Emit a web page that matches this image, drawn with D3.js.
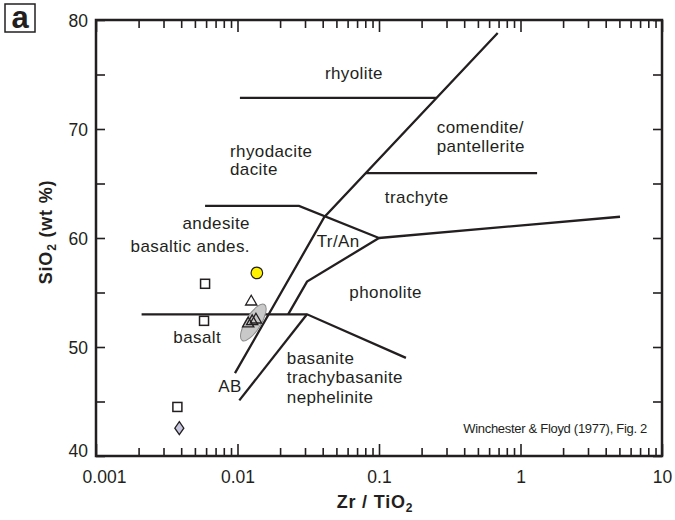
<!DOCTYPE html>
<html>
<head>
<meta charset="utf-8">
<script src="https://cdn.jsdelivr.net/npm/d3@7"></script>
<style>
  body { margin: 0; background: #fff; }
  svg text { font-family: "Liberation Sans", Arial, sans-serif; fill: #231f20; }
</style>
</head>
<body>
<svg id="chart" width="675" height="520"></svg>
<script>
// axes
var xMajor = [0.001, 0.01, 0.1, 1, 10];
var xLabels = ["0.001", "0.01", "0.1", "1", "10"];
var yMajor = [40, 50, 60, 70, 80];
var yMinor = [45, 55, 65, 75];

// field boundaries as [Zr/TiO2, SiO2]
var bMain      = [[0.69, 78.8], [0.041, 61.9], [0.0096, 47.6]];
var bRhyolite  = [[0.0104, 72.85], [0.255, 72.85]];
var bComendite = [[0.0807, 65.95], [1.31, 65.95]];
var bAndesite  = [[0.0059, 62.95], [0.0272, 62.95], [0.1, 60]];
var bTrachyte  = [[0.1, 60], [5.05, 61.95]];
var bTrAn      = [[0.1, 60], [0.031, 56], [0.0228, 53]];
var bBasalt    = [[0.0021, 53], [0.031, 53], [0.155, 49]];
var bAB        = [[0.031, 53], [0.0103, 45.1]];

// samples
var squares   = [[0.0059, 55.8], [0.0058, 52.4], [0.00376, 44.5]];
var circles   = [[0.0137, 56.8]];
var diamonds  = [[0.00388, 42.55]];
var trianglesOpen  = [[0.0125, 54.15]];
var trianglesField = [[0.0119, 52.15], [0.0127, 52.35], [0.0135, 52.5]];
var fieldEnds = [[0.0108, 50.6], [0.0155, 53.9]];   // grey ellipse, long axis

// field names
var namesLeft = [
  ["rhyodacite", 0.00885, 67.43], ["dacite", 0.00885, 65.78],
  ["comendite/", 0.256, 69.59], ["pantellerite", 0.256, 67.89],
  ["trachyte", 0.110, 63.21], ["Tr/An", 0.0363, 59.15],
  ["phonolite", 0.0617, 54.47], ["basalt", 0.00352, 50.34],
  ["AB", 0.00731, 45.9], ["basanite", 0.0223, 48.44],
  ["trachybasanite", 0.0223, 46.67], ["nephelinite", 0.0223, 44.89]
];
var namesRight = [["andesite", 0.01225, 60.83], ["basaltic andes.", 0.01225, 58.72]];
var namesMid = [["rhyolite", 0.0665, 74.6]];

var svg = d3.select("#chart");
var x = d3.scaleLog().domain([0.001, 10]).range([96, 662]);
var y = d3.scaleLinear().domain([40, 80]).range([456, 20]);
var ink = "#231f20";

var xAll = x.ticks();
var isMajor = d => xMajor.some(m => Math.abs(m - d) / m < 1e-6);

// bottom axis
var gb = svg.append("g").attr("transform", "translate(0,456)")
  .call(d3.axisBottom(x).tickValues(xAll).tickSize(-8).tickSizeOuter(0)
    .tickFormat(d => isMajor(d) ? xLabels[xMajor.findIndex(m => Math.abs(m - d) / m < 1e-6)] : ""));
// top axis
var gt = svg.append("g").attr("transform", "translate(0,20)")
  .call(d3.axisTop(x).tickValues(xAll).tickSize(-8).tickSizeOuter(0).tickFormat(""));
// left axis
var gl = svg.append("g").attr("transform", "translate(96,0)")
  .call(d3.axisLeft(y).tickValues(yMajor.concat(yMinor)).tickSize(-9).tickSizeOuter(0)
    .tickFormat(d => yMajor.includes(d) ? d : ""));
// right axis
var gr = svg.append("g").attr("transform", "translate(662,0)")
  .call(d3.axisRight(y).tickValues(yMajor.concat(yMinor)).tickSize(-9).tickSizeOuter(0).tickFormat(""));

[gb, gt, gl, gr].forEach(g => {
  g.select(".domain").remove();
  g.selectAll("line").attr("stroke", ink).attr("stroke-width", 1.6);
  g.selectAll("text").style("font-size", "17.5px").attr("fill", ink);
});
gb.selectAll(".tick").filter(isMajor).select("line").attr("y2", -12);
gt.selectAll(".tick").filter(isMajor).select("line").attr("y2", 12);
gb.selectAll("text").attr("dy", null).attr("y", 26.7)
  .attr("dx", d => d === 0.001 ? 8 : 0);
gl.selectAll("text").attr("x", -8).attr("dy", "0.35em")
  .attr("y", d => d === 40 ? -6 : 0);

// frame
svg.append("rect").attr("x", 96).attr("y", 20).attr("width", 566).attr("height", 436)
  .attr("fill", "none").attr("stroke", ink).attr("stroke-width", 2.5);

// boundaries
var line = d3.line().x(d => x(d[0])).y(d => y(d[1]));
svg.append("g").selectAll("path")
  .data([bMain, bRhyolite, bComendite, bAndesite, bTrachyte, bTrAn, bBasalt, bAB])
  .join("path").attr("d", line)
  .attr("fill", "none").attr("stroke", ink).attr("stroke-width", 2.3)
  .attr("stroke-linejoin", "miter");

// grey field
var p0 = [x(fieldEnds[0][0]), y(fieldEnds[0][1])];
var p1 = [x(fieldEnds[1][0]), y(fieldEnds[1][1])];
var ang = Math.atan2(p1[1] - p0[1], p1[0] - p0[0]) * 180 / Math.PI;
svg.append("ellipse")
  .attr("transform", "translate(" + (p0[0] + p1[0]) / 2 + "," + (p0[1] + p1[1]) / 2 + ") rotate(" + ang + ")")
  .attr("rx", Math.hypot(p1[0] - p0[0], p1[1] - p0[1]) / 2).attr("ry", 7.5)
  .attr("fill", "#c9c9c9").attr("stroke", "#8c8c8c").attr("stroke-width", 1);

// samples
svg.append("g").selectAll("rect").data(squares).join("rect")
  .attr("x", d => x(d[0]) - 4.5).attr("y", d => y(d[1]) - 4.5)
  .attr("width", 9).attr("height", 9)
  .attr("fill", "#fff").attr("stroke", ink).attr("stroke-width", 1.5);

svg.append("g").selectAll("circle").data(circles).join("circle")
  .attr("cx", d => x(d[0])).attr("cy", d => y(d[1])).attr("r", 5.8)
  .attr("fill", "#fff200").attr("stroke", ink).attr("stroke-width", 1.2);

svg.append("g").selectAll("path").data(diamonds).join("path")
  .attr("d", d => { var cx = x(d[0]), cy = y(d[1]);
    return "M" + cx + "," + (cy - 6.5) + "L" + (cx + 4.5) + "," + cy + "L" + cx + "," + (cy + 6.5) + "L" + (cx - 4.5) + "," + cy + "Z"; })
  .attr("fill", "#c6c6de").attr("stroke", ink).attr("stroke-width", 1.3);

var tri = d3.symbol(d3.symbolTriangle, 55);
svg.append("g").selectAll("path").data(trianglesOpen).join("path")
  .attr("transform", d => "translate(" + x(d[0]) + "," + y(d[1]) + ")").attr("d", tri)
  .attr("fill", "#fff").attr("stroke", ink).attr("stroke-width", 1.3);
svg.append("g").selectAll("path").data(trianglesField).join("path")
  .attr("transform", d => "translate(" + x(d[0]) + "," + y(d[1]) + ")").attr("d", tri)
  .attr("fill", "none").attr("stroke", ink).attr("stroke-width", 1.3);

// field names
function names(arr, anchor) {
  svg.append("g").selectAll("text").data(arr).join("text")
    .attr("x", d => x(d[1])).attr("y", d => y(d[2]))
    .attr("text-anchor", anchor)
    .style("font-size", "17px").style("letter-spacing", "0.4px")
    .text(d => d[0]);
}
names(namesLeft, "start");
names(namesRight, "end");
names(namesMid, "middle");

svg.append("text").attr("x", x(0.394)).attr("y", y(42.14))
  .style("font-size", "13px").style("letter-spacing", "-0.3px")
  .text("Winchester & Floyd (1977), Fig. 2");

// axis titles
var xt = svg.append("text").attr("x", 375).attr("y", 508).attr("text-anchor", "middle")
  .style("font-size", "18px").style("font-weight", "bold").style("letter-spacing", "0.8px");
xt.append("tspan").text("Zr / TiO");
xt.append("tspan").attr("dy", 4).style("font-size", "12px").text("2");

var yt = svg.append("text").attr("transform", "translate(52,232) rotate(-90)").attr("text-anchor", "middle")
  .style("font-size", "18px").style("font-weight", "bold").style("letter-spacing", "0.8px");
yt.append("tspan").text("SiO");
yt.append("tspan").attr("dy", 4).style("font-size", "12px").text("2");
yt.append("tspan").attr("dy", -4).text(" (wt %)");

// panel letter
svg.append("rect").attr("x", 5).attr("y", 4).attr("width", 30).attr("height", 28)
  .attr("fill", "none").attr("stroke", ink).attr("stroke-width", 1.5);
svg.append("text").attr("x", 20).attr("y", 28.3).attr("text-anchor", "middle")
  .style("font-size", "31px").style("font-weight", "bold").text("a");
</script>
</body>
</html>
